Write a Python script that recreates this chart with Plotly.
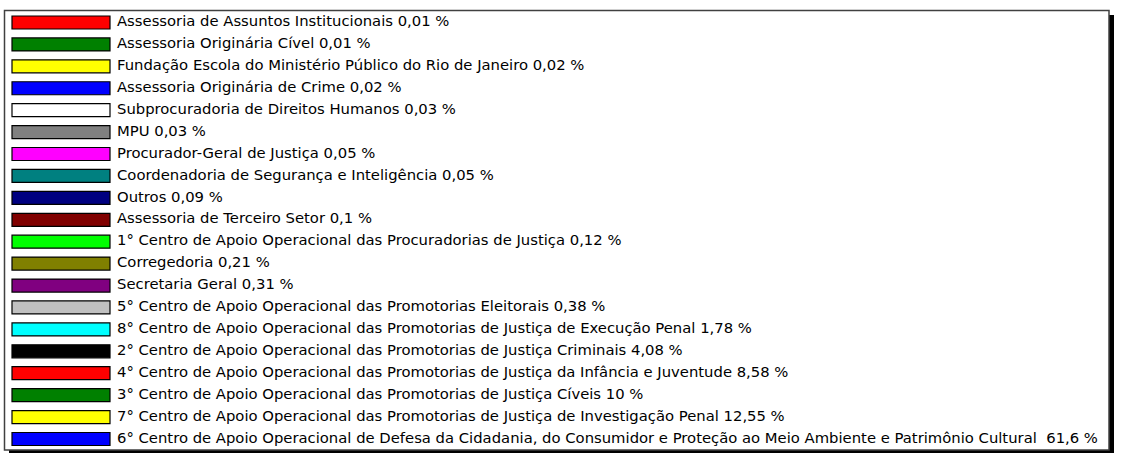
import plotly.graph_objects as go

names = [
    "Assessoria de Assuntos Institucionais",
    "Assessoria Originária Cível",
    "Fundação Escola do Ministério Público do Rio de Janeiro",
    "Assessoria Originária de Crime",
    "Subprocuradoria de Direitos Humanos",
    "MPU",
    "Procurador-Geral de Justiça",
    "Coordenadoria de Segurança e Inteligência",
    "Outros",
    "Assessoria de Terceiro Setor",
    "1° Centro de Apoio Operacional das Procuradorias de Justiça",
    "Corregedoria",
    "Secretaria Geral",
    "5° Centro de Apoio Operacional das Promotorias Eleitorais",
    "8° Centro de Apoio Operacional das Promotorias de Justiça de Execução Penal",
    "2° Centro de Apoio Operacional das Promotorias de Justiça Criminais",
    "4° Centro de Apoio Operacional das Promotorias de Justiça da Infância e Juventude",
    "3° Centro de Apoio Operacional das Promotorias de Justiça Cíveis",
    "7° Centro de Apoio Operacional das Promotorias de Justiça de Investigação Penal",
    "6° Centro de Apoio Operacional de Defesa da Cidadania, do Consumidor e Proteção ao Meio Ambiente e Patrimônio Cultural\u00a0",
]
values = [0.01, 0.01, 0.02, 0.02, 0.03, 0.03, 0.05, 0.05, 0.09, 0.1,
          0.12, 0.21, 0.31, 0.38, 1.78, 4.08, 8.58, 10, 12.55, 61.6]
colors = ["#FF0000", "#008000", "#FFFF00", "#0000FF", "#FFFFFF", "#808080",
          "#FF00FF", "#008080", "#000080", "#800000", "#00FF00", "#808000",
          "#800080", "#C0C0C0", "#00FFFF", "#000000", "#FF0000", "#008000",
          "#FFFF00", "#0000FF"]

labels = [f"{n} {f'{v:g}'.replace('.', ',')} %" for n, v in zip(names, values)]
rows = list(range(len(names)))

W, H = 1122, 456
sw_left, sw_len = 12, 98
text_x = 117
row0, pitch = 22.5, 21.92

fig = go.Figure()
fig.add_trace(go.Bar(
    y=rows, x=[sw_len] * len(rows), base=[sw_left] * len(rows),
    orientation="h", width=13 / pitch,
    marker=dict(color=colors, line=dict(color="#000000", width=1.2)),
    hoverinfo="skip", showlegend=False,
))
fig.add_trace(go.Scatter(
    y=rows, x=[text_x] * len(rows), mode="text", text=labels,
    textposition="middle right",
    textfont=dict(family="DejaVu Sans, Verdana, sans-serif", size=14.8, color="#000000"),
    hoverinfo="skip", showlegend=False, cliponaxis=False,
))

fig.update_layout(
    width=W, height=H, margin=dict(l=0, r=0, t=0, b=0),
    paper_bgcolor="#FFFFFF", plot_bgcolor="#FFFFFF",
    xaxis=dict(range=[0, W], visible=False, fixedrange=True),
    yaxis=dict(range=[(H - row0) / pitch, -row0 / pitch], visible=False, fixedrange=True),
    shapes=[
        # shadow
        dict(type="rect", xref="x", yref="paper", x0=1109, x1=1114, y0=1 - 15 / H, y1=1 - 453 / H,
             fillcolor="#000000", line=dict(width=0), layer="below"),
        dict(type="rect", xref="x", yref="paper", x0=9, x1=1114, y0=1 - 450 / H, y1=1 - 453 / H,
             fillcolor="#000000", line=dict(width=0), layer="below"),
        # box
        dict(type="rect", xref="x", yref="paper", x0=4.5, x1=1109, y0=1 - 10.5 / H, y1=1 - 450 / H,
             fillcolor="rgba(0,0,0,0)", line=dict(color="#404040", width=1.5), layer="below"),
    ],
)

fig.write_html("out.html", config={"displayModeBar": False, "staticPlot": True},
               post_script="document.body.style.margin='0';document.body.style.overflow='hidden';")
